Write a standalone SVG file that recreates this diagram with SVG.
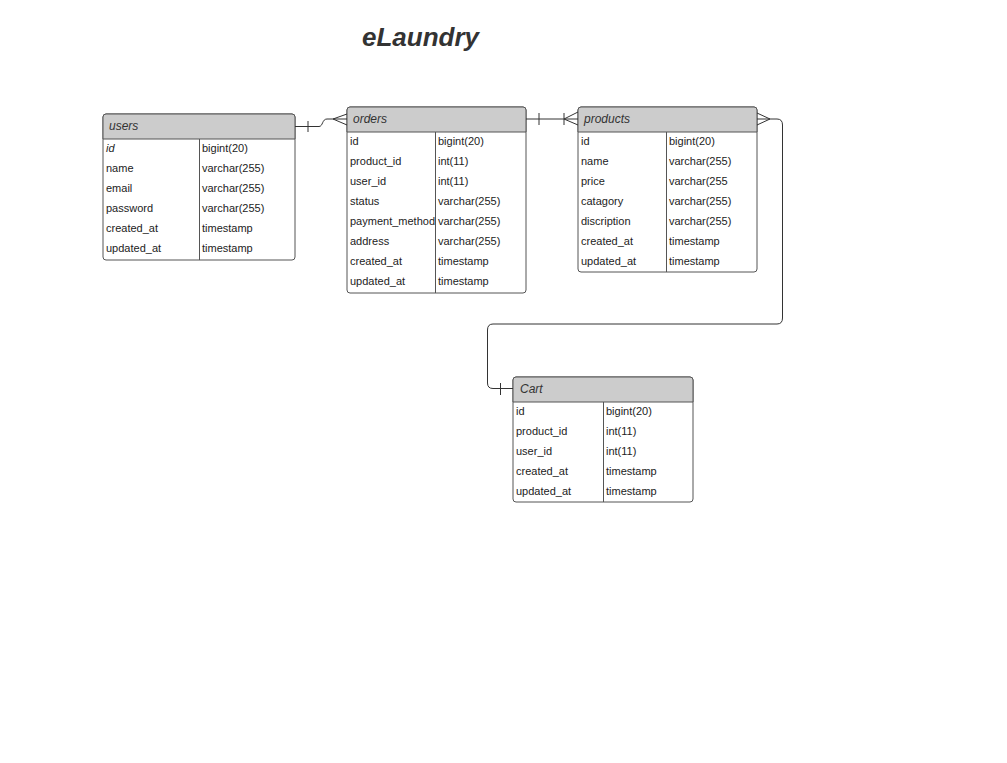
<svg xmlns="http://www.w3.org/2000/svg" width="1007" height="763" viewBox="0 0 1007 763">
<style>
.tbl{fill:#ffffff;stroke:#555555;stroke-width:1}
.hdr{fill:#cccccc;stroke:#555555;stroke-width:1}
.ln{stroke:#555555;stroke-width:1;fill:none}
.ht{font-family:"Liberation Sans",Arial,sans-serif;font-size:12px;font-style:italic;fill:#333333}
.t{font-family:"Liberation Sans",Arial,sans-serif;font-size:11px;fill:#222222}
.it{font-style:italic}
.title{font-family:"Liberation Sans",Arial,sans-serif;font-size:26px;font-weight:bold;font-style:italic;fill:#333333}
.c{stroke:#333333;stroke-width:1;fill:none}
</style>
<rect width="1007" height="763" fill="#ffffff"/>
<text class="title" x="362" y="46">eLaundry</text>

<g id="users">
<rect class="tbl" x="103" y="114" width="192" height="146" rx="3"/>
<path class="hdr" d="M103,139 V117 Q103,114 106,114 H292 Q295,114 295,117 V139 Z"/>
<line class="ln" x1="199.5" y1="139" x2="199.5" y2="260"/>
<text class="ht" x="109" y="130">users</text>
<text class="t it" x="106" y="152">id</text><text class="t" x="202" y="152">bigint(20)</text>
<text class="t" x="106" y="172">name</text><text class="t" x="202" y="172">varchar(255)</text>
<text class="t" x="106" y="192">email</text><text class="t" x="202" y="192">varchar(255)</text>
<text class="t" x="106" y="212">password</text><text class="t" x="202" y="212">varchar(255)</text>
<text class="t" x="106" y="232">created_at</text><text class="t" x="202" y="232">timestamp</text>
<text class="t" x="106" y="252">updated_at</text><text class="t" x="202" y="252">timestamp</text>
</g>

<g id="orders">
<rect class="tbl" x="347" y="107" width="179" height="186" rx="3"/>
<path class="hdr" d="M347,132 V110 Q347,107 350,107 H523 Q526,107 526,110 V132 Z"/>
<line class="ln" x1="435.5" y1="132" x2="435.5" y2="293"/>
<text class="ht" x="353" y="123">orders</text>
<text class="t" x="350" y="145">id</text><text class="t" x="438" y="145">bigint(20)</text>
<text class="t" x="350" y="165">product_id</text><text class="t" x="438" y="165">int(11)</text>
<text class="t" x="350" y="185">user_id</text><text class="t" x="438" y="185">int(11)</text>
<text class="t" x="350" y="205">status</text><text class="t" x="438" y="205">varchar(255)</text>
<text class="t" x="350" y="225">payment_method</text><text class="t" x="438" y="225">varchar(255)</text>
<text class="t" x="350" y="245">address</text><text class="t" x="438" y="245">varchar(255)</text>
<text class="t" x="350" y="265">created_at</text><text class="t" x="438" y="265">timestamp</text>
<text class="t" x="350" y="285">updated_at</text><text class="t" x="438" y="285">timestamp</text>
</g>

<g id="products">
<rect class="tbl" x="578" y="107" width="179" height="165" rx="3"/>
<path class="hdr" d="M578,132 V110 Q578,107 581,107 H754 Q757,107 757,110 V132 Z"/>
<line class="ln" x1="666.5" y1="132" x2="666.5" y2="272"/>
<text class="ht" x="584" y="123">products</text>
<text class="t" x="581" y="145">id</text><text class="t" x="669" y="145">bigint(20)</text>
<text class="t" x="581" y="165">name</text><text class="t" x="669" y="165">varchar(255)</text>
<text class="t" x="581" y="185">price</text><text class="t" x="669" y="185">varchar(255</text>
<text class="t" x="581" y="205">catagory</text><text class="t" x="669" y="205">varchar(255)</text>
<text class="t" x="581" y="225">discription</text><text class="t" x="669" y="225">varchar(255)</text>
<text class="t" x="581" y="245">created_at</text><text class="t" x="669" y="245">timestamp</text>
<text class="t" x="581" y="265">updated_at</text><text class="t" x="669" y="265">timestamp</text>
</g>

<g id="cart">
<rect class="tbl" x="513" y="377" width="180" height="125" rx="3"/>
<path class="hdr" d="M513,402 V380 Q513,377 516,377 H690 Q693,377 693,380 V402 Z"/>
<line class="ln" x1="603.5" y1="402" x2="603.5" y2="502"/>
<text class="ht" x="520" y="393">Cart</text>
<text class="t" x="516" y="415">id</text><text class="t" x="606" y="415">bigint(20)</text>
<text class="t" x="516" y="435">product_id</text><text class="t" x="606" y="435">int(11)</text>
<text class="t" x="516" y="455">user_id</text><text class="t" x="606" y="455">int(11)</text>
<text class="t" x="516" y="475">created_at</text><text class="t" x="606" y="475">timestamp</text>
<text class="t" x="516" y="495">updated_at</text><text class="t" x="606" y="495">timestamp</text>
</g>

<g id="connectors">
<path class="c" d="M295,126.5 H319 C323,126.5 322,119 327,119 H347"/>
<path class="c" d="M308,121 V132"/>
<path class="c" d="M333,119 L347,114 M333,119 L347,125"/>

<path class="c" d="M526,119 H578"/>
<path class="c" d="M539,113 V125 M564,113 V125"/>
<path class="c" d="M564,119 L578,112 M564,119 L578,125"/>

<path class="c" d="M757,119 H777 Q782.5,119 782.5,125 V318 Q782.5,324 777,324 H493 Q487.5,324 487.5,330 V383 Q487.5,388.5 493,388.5 H513"/>
<path class="c" d="M770,119 L757,113 M770,119 L757,125"/>
<path class="c" d="M500.5,383 V395"/>
</g>
</svg>
